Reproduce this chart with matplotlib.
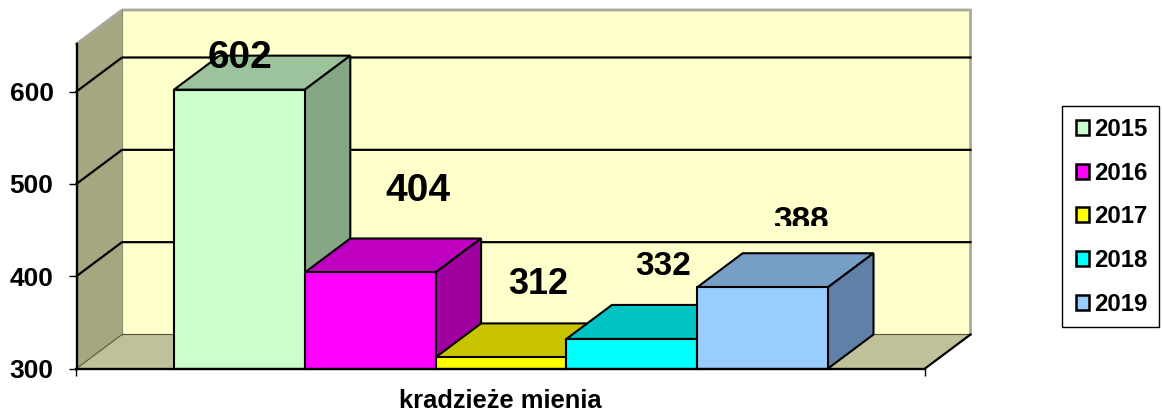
#!/usr/bin/env python3
"""3D-look bar chart of property theft counts, 2015-2019."""

import matplotlib

matplotlib.use("Agg")
import matplotlib.pyplot as plt
from matplotlib.patches import Patch, Polygon, Rectangle
from matplotlib.transforms import Bbox

years = ["2015", "2016", "2017", "2018", "2019"]
values = [602, 404, 312, 332, 388]
category = "kradzieże mienia"
y_ticks = [300, 400, 500, 600]

front_colors = ["#ccffcc", "#ff00ff", "#ffff00", "#00ffff", "#99ccff"]
top_colors = ["#9dc39d", "#c000c0", "#c8c400", "#00c4c4", "#779ec6"]
side_colors = ["#85a785", "#a000a0", "#a8a400", "#00a4a4", "#6080a8"]

W, H = 1162, 416
AX_L, AX_R, AX_T, AX_B = 76.5, 925.0, 44.0, 368.5
BAR_PX = 130.8
PX_PER_VAL = 277.0 / 300.0

x_min = (AX_L - 174.0) / BAR_PX
x_max = x_min + (AX_R - AX_L) / BAR_PX
y_max = 300 + (AX_B - AX_T) / PX_PER_VAL
DX = 45.5 / BAR_PX
DY = 34.0 / PX_PER_VAL

# where each value label sits relative to the top centre of its bar (pixels)
label_dx = [1, 48, 37, 31, 38]
label_dy = [32, 81, 73, 72, 66]
label_size = [28, 28, 26, 24, 24]

plt.rcParams["font.family"] = ["Liberation Sans", "DejaVu Sans"]
plt.rcParams["font.weight"] = "bold"

fig = plt.figure(figsize=(W / 100, H / 100), dpi=100)
ax = fig.add_axes([AX_L / W, 1 - AX_B / H, (AX_R - AX_L) / W, (AX_B - AX_T) / H])
ax.set_xlim(x_min, x_max)
ax.set_ylim(300, y_max)
ax.patch.set_alpha(0)


def poly(pts, color, edge="none", lw=0.0, z=1.0):
    ax.add_patch(Polygon(pts, closed=True, facecolor=color, edgecolor=edge,
                         linewidth=lw, clip_on=False, zorder=z, joinstyle="miter"))


# walls and floor
back_l, back_r = x_min + DX, x_max + DX
poly([(back_l, 300 + DY), (back_r, 300 + DY), (back_r, y_max + DY), (back_l, y_max + DY)],
     "#ffffcc", z=1.0)
poly([(x_min, 300), (back_l, 300 + DY), (back_l, y_max + DY), (x_min, y_max)], "#a6a680", z=1.1)
poly([(x_min, 300), (back_l, 300 + DY), (back_r, 300 + DY), (x_max, 300)], "#c0c09a", z=1.1)
ax.plot([x_min, back_l, back_r, back_r], [y_max, y_max + DY, y_max + DY, 300 + DY],
        color="#a8a8a0", lw=2.0, clip_on=False, zorder=1.2, solid_joinstyle="miter")
ax.plot([back_l, back_l], [300 + DY, y_max + DY], color="#8f8f70", lw=0.8, clip_on=False, zorder=1.2)

# gridlines run along the left wall and the back wall
for v in y_ticks:
    lw = 1.6 if v > 300 else 0.8
    ax.plot([x_min, back_l, back_r], [v, v + DY, v + DY], color="black" if v > 300 else "#55553f",
            lw=lw, clip_on=False, zorder=1.3)
ax.plot([x_max, back_r], [300, 300 + DY], color="black", lw=1.6, clip_on=False, zorder=1.3)

# bars, left to right so later ones cover the earlier side faces
for i, v in enumerate(values):
    z = 2 + i * 0.1
    ek = dict(edge="black", lw=1.5, z=z)
    poly([(i, v), (i + 1, v), (i + 1 + DX, v + DY), (i + DX, v + DY)], top_colors[i], **ek)
    poly([(i + 1, 300), (i + 1 + DX, 300 + DY), (i + 1 + DX, v + DY), (i + 1, v)], side_colors[i], **ek)
    poly([(i, 300), (i + 1, 300), (i + 1, v), (i, v)], front_colors[i], **ek)

# value labels; the last one is cut off in the source picture
for i, v in enumerate(values):
    t = ax.annotate(str(v), xy=(i + 0.5, v), xytext=(label_dx[i], label_dy[i]),
                    textcoords="offset pixels", ha="center", va="center",
                    fontsize=label_size[i], fontweight="bold", color="black", zorder=5,
                    annotation_clip=False)
    if i == 4:
        t.set_clip_on(True)
        t.set_clip_box(Bbox([[0, H - 226], [W, H]]))

for s in ("top", "right"):
    ax.spines[s].set_visible(False)
for s in ("left", "bottom"):
    ax.spines[s].set_linewidth(1.7)
    ax.spines[s].set_zorder(4)

ax.set_yticks(y_ticks)
ax.tick_params(axis="y", length=6, width=1.0, pad=10.5, labelsize=19)
ax.set_xticks([x_min, x_max])
ax.set_xticklabels(["", ""])
ax.tick_params(axis="x", length=5, width=1.0)
ax.set_xlabel(category, fontsize=18.4, fontweight="bold", labelpad=6)

# legend box is drawn apart so its padding can differ from the entries' spacing
fig.add_artist(Rectangle((1061.5 / W, 1 - 326.5 / H), 97.5 / W, 220.8 / H, facecolor="white",
                         edgecolor="black", linewidth=1.0, transform=fig.transFigure))
handles = [Patch(facecolor=c, edgecolor="black", linewidth=1.8) for c in front_colors]
fig.legend(handles, years, loc="upper left", bbox_to_anchor=(1075.5 / W, 1 - 118 / H),
           borderaxespad=0, frameon=False, fontsize=17.3, handlelength=0.58, handleheight=0.58,
           handletextpad=0.18, labelspacing=0.86, borderpad=0)

fig.savefig("out.png", dpi=100)
